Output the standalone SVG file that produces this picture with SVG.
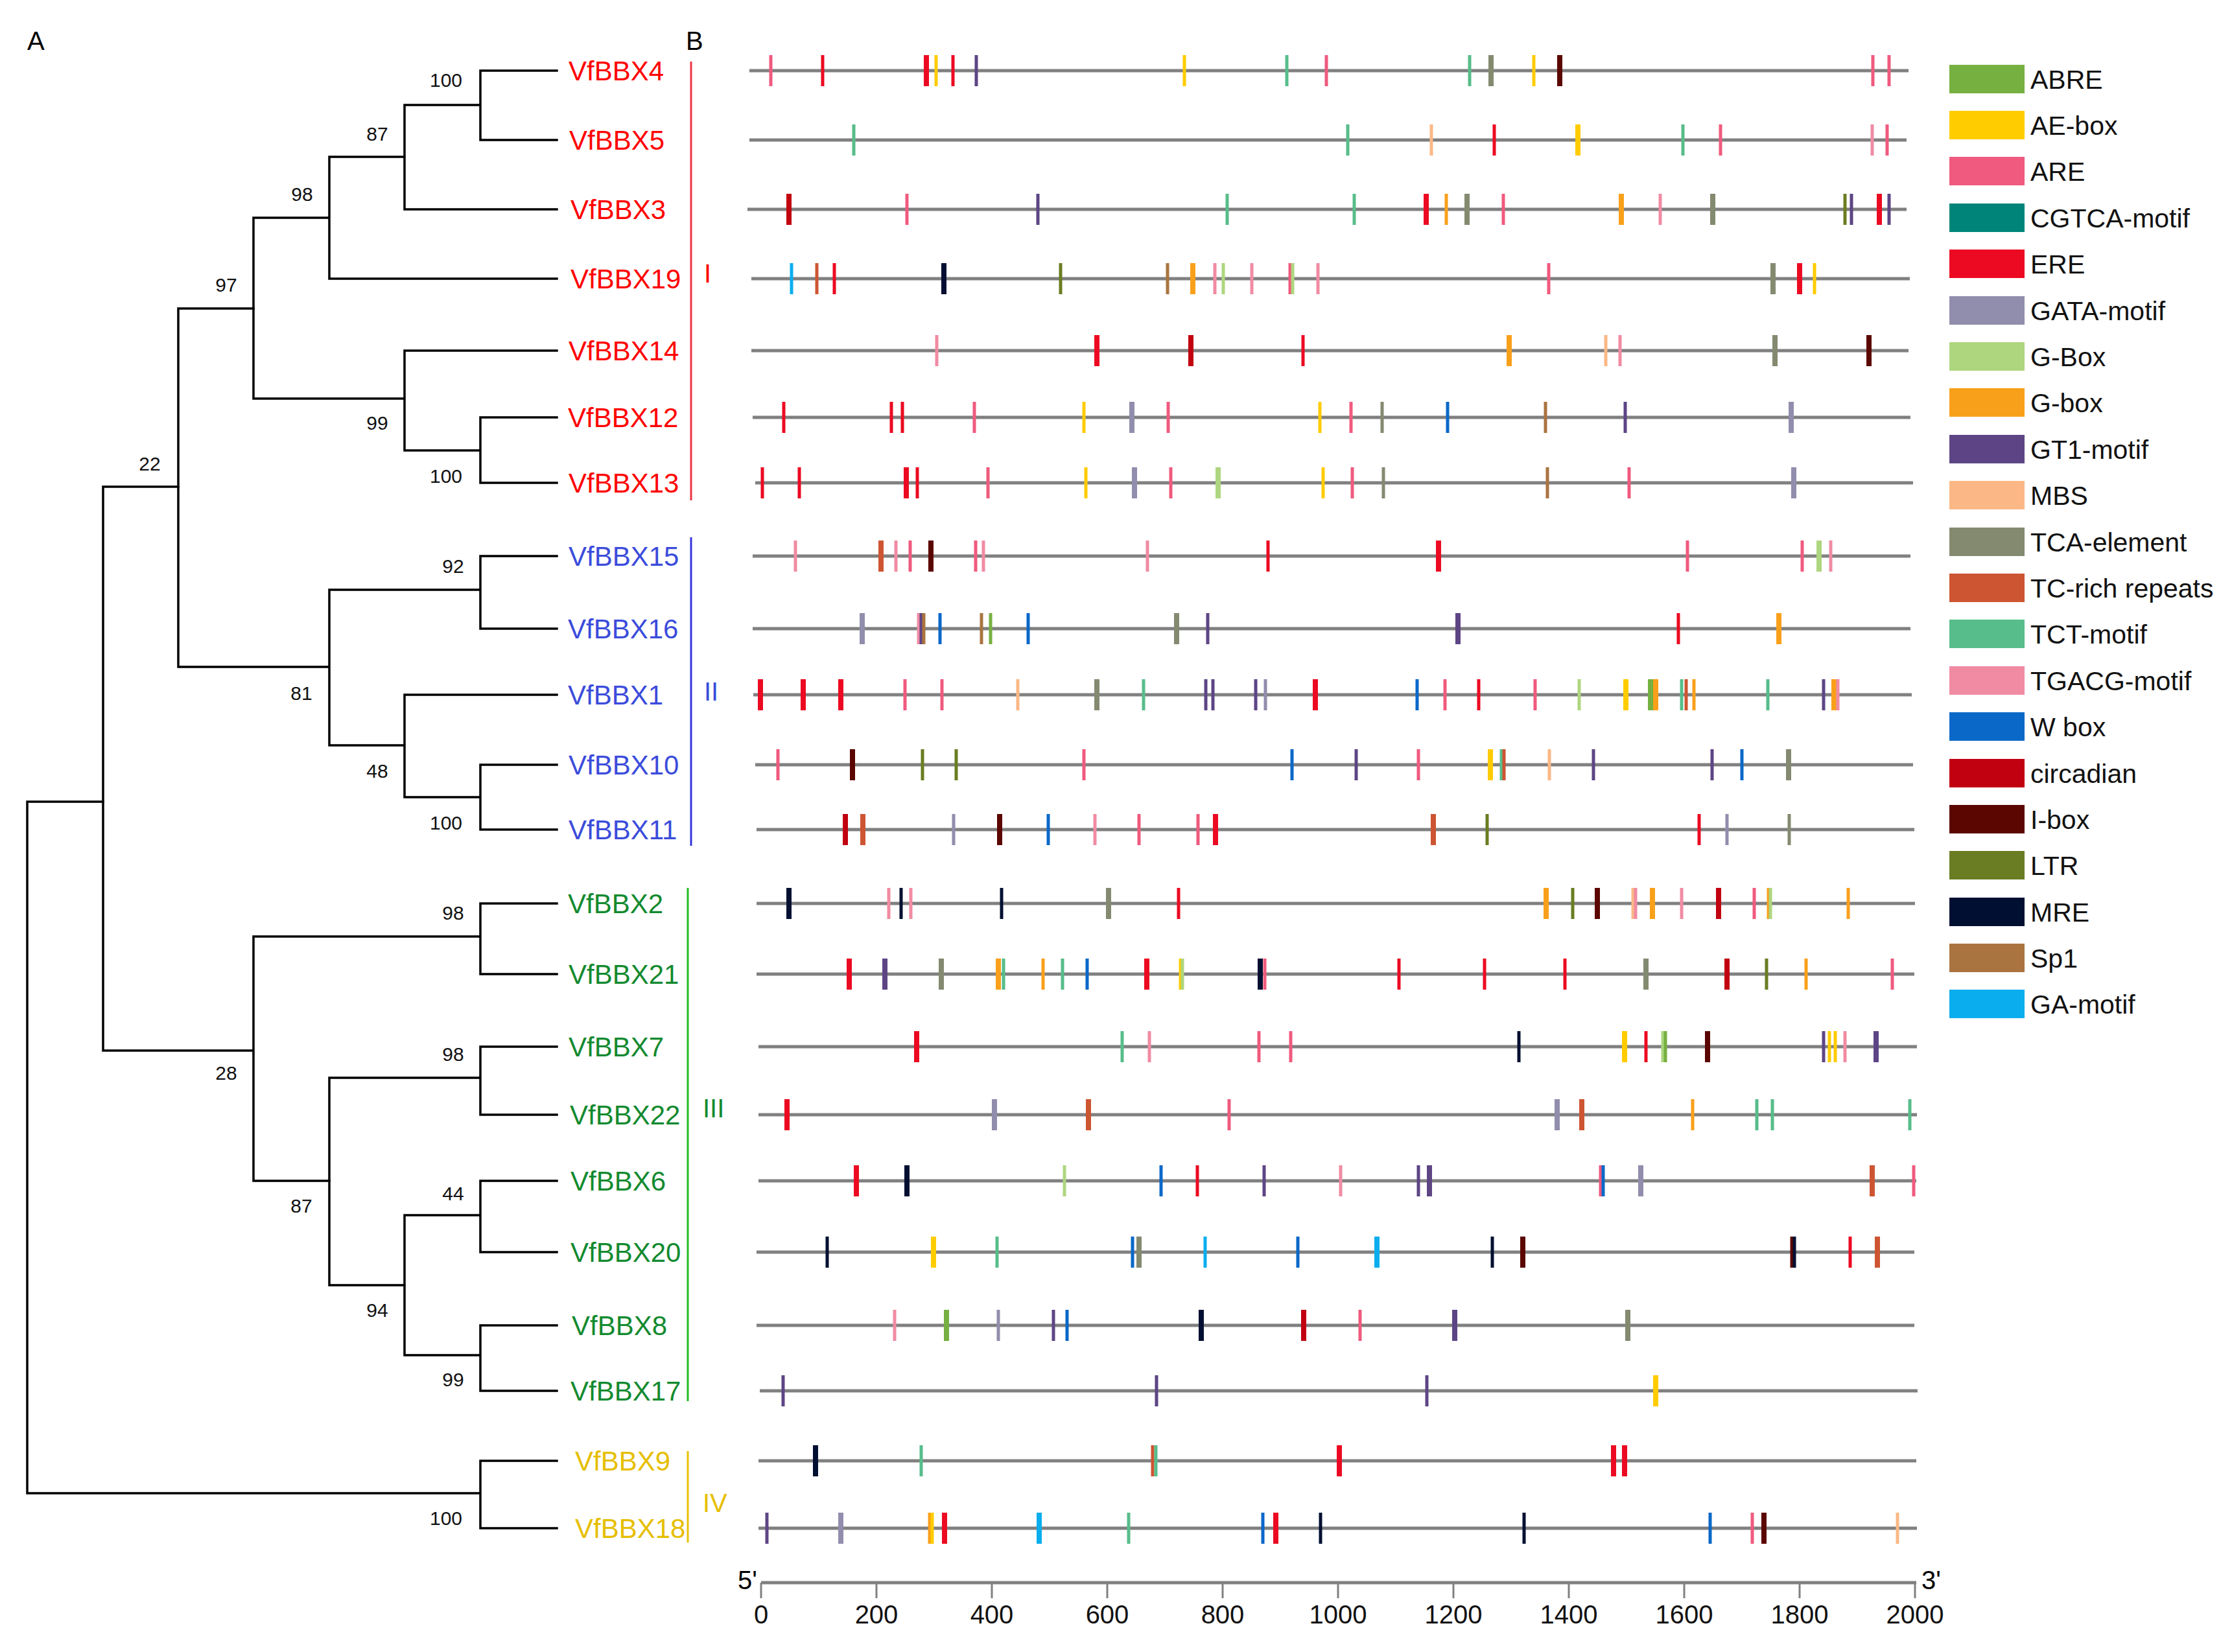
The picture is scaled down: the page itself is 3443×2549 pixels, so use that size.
<svg xmlns="http://www.w3.org/2000/svg" xmlns:xlink="http://www.w3.org/1999/xlink" width="3443" height="2549" viewBox="0 0 3443 2549">
<style>
text{font-family:"Liberation Sans",Arial,sans-serif}
.lab{font-size:42px}
.num{font-size:30px;fill:#111;text-anchor:middle}
.leg{font-size:41px;fill:#111}
.ax{font-size:40px;fill:#111;text-anchor:middle}
.br{fill:none;stroke:#000;stroke-width:3.5;stroke-linecap:square}
.row{stroke:#808080;stroke-width:5}
.c1{fill:#FF0000}.c2{fill:#3B4CDB}.c3{fill:#138A2F}.c4{fill:#E6BE00}
.abre{fill:#76B041}.ae{fill:#FFCC00}.are{fill:#F05A7E}.cgtca{fill:#00847A}.ere{fill:#EC0A22}
.gata{fill:#918DAC}.gB{fill:#AED67F}.gb{fill:#F9A01B}.gt1{fill:#5D4585}.mbs{fill:#FBB886}
.tca{fill:#838A70}.tcr{fill:#CD5532}.tct{fill:#57BD8A}.tgacg{fill:#F08BA3}.wbox{fill:#0A68C8}
.circ{fill:#C10010}.ibox{fill:#5B0600}.ltr{fill:#6A7D22}.mre{fill:#011032}.sp1{fill:#AA7440}.ga{fill:#0AAEEE}
</style>
<defs>
<rect id="t" x="-2.5" y="-24" width="5" height="48"/>
<rect id="T" x="-4" y="-24" width="8" height="48"/>
</defs>
<rect width="3443" height="2549" fill="#fff"/>
<text x="42" y="77" style="font-size:40px">A</text>
<text x="1058" y="77" style="font-size:40px">B</text>

<g id="connectors" class="br">
<path d="M859 109H741V216H859M741 162H624V323H859M624 242H508V430H859M508 336H391V615H624M624 541V695H741M741 644H859M741 644V745H859M859 541H624"/>
<path d="M391 476H275V1029H508M508 910V1150H624M624 1072V1230H741M741 1180H859M741 1180V1280H859M859 1072H624M508 910H741M741 858H859M741 858V970H859"/>
<path d="M275 751H159V1621H391M391 1445V1822H508M741 1394H859M741 1394V1503H859M391 1445H741"/>
<path d="M508 1663V1983H624M508 1663H741M741 1615H859M741 1615V1720H859M624 1875V2091H741M624 1875H741M741 1822H859M741 1822V1932H859M741 2045H859M741 2045V2146H859"/>
<path d="M159 1237H42V2304H741M741 2254H859M741 2254V2358H859"/>
</g>

<g id="bootstrap">
<text class="num" x="688" y="134">100</text>
<text class="num" x="582" y="217">87</text>
<text class="num" x="466" y="310">98</text>
<text class="num" x="349" y="450">97</text>
<text class="num" x="231" y="726">22</text>
<text class="num" x="582" y="663">99</text>
<text class="num" x="688" y="745">100</text>
<text class="num" x="699" y="884">92</text>
<text class="num" x="465" y="1080">81</text>
<text class="num" x="582" y="1200">48</text>
<text class="num" x="688" y="1280">100</text>
<text class="num" x="699" y="1419">98</text>
<text class="num" x="349" y="1666">28</text>
<text class="num" x="699" y="1637">98</text>
<text class="num" x="465" y="1871">87</text>
<text class="num" x="699" y="1852">44</text>
<text class="num" x="582" y="2032">94</text>
<text class="num" x="699" y="2139">99</text>
<text class="num" x="688" y="2353">100</text>
</g>

<g id="clades">
<line x1="1066" y1="95" x2="1066" y2="772" stroke="#EE3344" stroke-width="3"/>
<text x="1086" y="436" class="c1" style="font-size:40px">I</text>
<line x1="1066" y1="829" x2="1066" y2="1305" stroke="#3535DD" stroke-width="3"/>
<text x="1086" y="1081" class="c2" style="font-size:40px">II</text>
<line x1="1061" y1="1370" x2="1061" y2="2162" stroke="#22BB22" stroke-width="3"/>
<text x="1084" y="1724" class="c3" style="font-size:40px">III</text>
<line x1="1061" y1="2239" x2="1061" y2="2380" stroke="#E6C000" stroke-width="3"/>
<text x="1084" y="2333" class="c4" style="font-size:40px">IV</text>
</g>

<g id="VfBBX4"><text class="lab c1" x="877" y="124">VfBBX4</text>
<g transform="translate(0,109)"><line class="row" x1="1156" x2="2944" y1="0" y2="0"/>
<use href="#t" x="1189" class="are"/><use href="#t" x="1269" class="ere"/><use href="#T" x="1429" class="ere"/><use href="#t" x="1444" class="ae"/><use href="#t" x="1470" class="ere"/><use href="#t" x="1506" class="gt1"/><use href="#t" x="1827" class="ae"/><use href="#t" x="1985" class="tct"/><use href="#t" x="2046" class="are"/><use href="#t" x="2267" class="tct"/><use href="#T" x="2300" class="tca"/><use href="#t" x="2366" class="ae"/><use href="#T" x="2406" class="ibox"/><use href="#t" x="2889" class="are"/><use href="#t" x="2914" class="are"/>
</g></g>

<g id="VfBBX5"><text class="lab c1" x="878" y="231">VfBBX5</text>
<g transform="translate(0,216)"><line class="row" x1="1156" x2="2941" y1="0" y2="0"/>
<use href="#t" x="1317" class="tct"/><use href="#t" x="2079" class="tct"/><use href="#t" x="2208" class="mbs"/><use href="#t" x="2305" class="ere"/><use href="#T" x="2434" class="ae"/><use href="#t" x="2596" class="tct"/><use href="#t" x="2654" class="are"/><use href="#t" x="2888" class="tgacg"/><use href="#t" x="2911" class="are"/>
</g></g>

<g id="VfBBX3"><text class="lab c1" x="880" y="338">VfBBX3</text>
<g transform="translate(0,323)"><line class="row" x1="1153" x2="2941" y1="0" y2="0"/>
<use href="#T" x="1217" class="circ"/><use href="#t" x="1399" class="are"/><use href="#t" x="1601" class="gt1"/><use href="#t" x="1893" class="tct"/><use href="#t" x="2089" class="tct"/><use href="#T" x="2200" class="ere"/><use href="#t" x="2231" class="gb"/><use href="#T" x="2263" class="tca"/><use href="#t" x="2319" class="are"/><use href="#T" x="2501" class="gb"/><use href="#t" x="2561" class="tgacg"/><use href="#T" x="2642" class="tca"/><use href="#t" x="2846" class="ltr"/><use href="#t" x="2856" class="gt1"/><use href="#T" x="2899" class="ere"/><use href="#t" x="2914" class="gt1"/>
</g></g>

<g id="VfBBX19"><text class="lab c1" x="880" y="445">VfBBX19</text>
<g transform="translate(0,430)"><line class="row" x1="1159" x2="2946" y1="0" y2="0"/>
<use href="#t" x="1221" class="ga"/><use href="#t" x="1260" class="tcr"/><use href="#t" x="1287" class="ere"/><use href="#T" x="1456" class="mre"/><use href="#t" x="1636" class="ltr"/><use href="#t" x="1801" class="sp1"/><use href="#T" x="1840" class="gb"/><use href="#t" x="1874" class="tgacg"/><use href="#t" x="1887" class="gB"/><use href="#t" x="1931" class="tgacg"/><use href="#t" x="1990" class="are"/><use href="#t" x="1994" class="gB"/><use href="#t" x="2033" class="tgacg"/><use href="#t" x="2389" class="are"/><use href="#T" x="2735" class="tca"/><use href="#T" x="2776" class="ere"/><use href="#t" x="2799" class="ae"/>
</g></g>

<g id="VfBBX14"><text class="lab c1" x="877" y="556">VfBBX14</text>
<g transform="translate(0,541)"><line class="row" x1="1159" x2="2944" y1="0" y2="0"/>
<use href="#t" x="1445" class="tgacg"/><use href="#T" x="1692" class="ere"/><use href="#T" x="1837" class="circ"/><use href="#t" x="2010" class="ere"/><use href="#T" x="2328" class="gb"/><use href="#t" x="2477" class="mbs"/><use href="#t" x="2499" class="tgacg"/><use href="#T" x="2738" class="tca"/><use href="#T" x="2883" class="ibox"/>
</g></g>

<g id="VfBBX12"><text class="lab c1" x="876" y="659">VfBBX12</text>
<g transform="translate(0,644)"><line class="row" x1="1161" x2="2947" y1="0" y2="0"/>
<use href="#t" x="1209" class="ere"/><use href="#t" x="1375" class="ere"/><use href="#t" x="1392" class="ere"/><use href="#t" x="1503" class="are"/><use href="#t" x="1672" class="ae"/><use href="#T" x="1746" class="gata"/><use href="#t" x="1802" class="are"/><use href="#t" x="2036" class="ae"/><use href="#t" x="2084" class="are"/><use href="#t" x="2132" class="tca"/><use href="#t" x="2233" class="wbox"/><use href="#t" x="2384" class="sp1"/><use href="#t" x="2507" class="gt1"/><use href="#T" x="2763" class="gata"/>
</g></g>

<g id="VfBBX13"><text class="lab c1" x="877" y="760">VfBBX13</text>
<g transform="translate(0,745)"><line class="row" x1="1165" x2="2951" y1="0" y2="0"/>
<use href="#t" x="1176" class="ere"/><use href="#t" x="1233" class="ere"/><use href="#T" x="1398" class="ere"/><use href="#t" x="1415" class="ere"/><use href="#t" x="1524" class="are"/><use href="#t" x="1675" class="ae"/><use href="#T" x="1750" class="gata"/><use href="#t" x="1806" class="are"/><use href="#T" x="1879" class="gB"/><use href="#t" x="2041" class="ae"/><use href="#t" x="2086" class="are"/><use href="#t" x="2134" class="tca"/><use href="#t" x="2387" class="sp1"/><use href="#t" x="2513" class="are"/><use href="#T" x="2767" class="gata"/>
</g></g>

<g id="VfBBX15"><text class="lab c2" x="877" y="873">VfBBX15</text>
<g transform="translate(0,858)"><line class="row" x1="1161" x2="2947" y1="0" y2="0"/>
<use href="#t" x="1227" class="tgacg"/><use href="#T" x="1359" class="tcr"/><use href="#t" x="1382" class="tgacg"/><use href="#t" x="1404" class="are"/><use href="#T" x="1436" class="ibox"/><use href="#t" x="1505" class="are"/><use href="#t" x="1517" class="tgacg"/><use href="#t" x="1770" class="tgacg"/><use href="#t" x="1956" class="ere"/><use href="#T" x="2219" class="ere"/><use href="#t" x="2603" class="are"/><use href="#t" x="2780" class="are"/><use href="#T" x="2806" class="gB"/><use href="#t" x="2824" class="tgacg"/>
</g></g>

<g id="VfBBX16"><text class="lab c2" x="876" y="985">VfBBX16</text>
<g transform="translate(0,970)"><line class="row" x1="1161" x2="2947" y1="0" y2="0"/>
<use href="#T" x="1330" class="gata"/><use href="#t" x="1417" class="tgacg"/><use href="#t" x="1421" class="gt1"/><use href="#t" x="1425" class="sp1"/><use href="#t" x="1450" class="wbox"/><use href="#t" x="1514" class="sp1"/><use href="#t" x="1528" class="abre"/><use href="#t" x="1586" class="wbox"/><use href="#T" x="1815" class="tca"/><use href="#t" x="1863" class="gt1"/><use href="#T" x="2249" class="gt1"/><use href="#t" x="2589" class="ere"/><use href="#T" x="2744" class="gb"/>
</g></g>

<g id="VfBBX1"><text class="lab c2" x="876" y="1087">VfBBX1</text>
<g transform="translate(0,1072)"><line class="row" x1="1162" x2="2949" y1="0" y2="0"/>
<use href="#T" x="1173" class="ere"/><use href="#T" x="1239" class="ere"/><use href="#T" x="1297" class="ere"/><use href="#t" x="1396" class="are"/><use href="#t" x="1453" class="are"/><use href="#t" x="1570" class="mbs"/><use href="#T" x="1692" class="tca"/><use href="#t" x="1764" class="tct"/><use href="#t" x="1860" class="gt1"/><use href="#t" x="1871" class="gt1"/><use href="#t" x="1937" class="gt1"/><use href="#t" x="1952" class="gata"/><use href="#T" x="2029" class="ere"/><use href="#t" x="2186" class="wbox"/><use href="#t" x="2229" class="are"/><use href="#t" x="2281" class="ere"/><use href="#t" x="2368" class="are"/><use href="#t" x="2436" class="gB"/><use href="#T" x="2508" class="ae"/><use href="#T" x="2546" class="abre"/><use href="#T" x="2554" class="gb"/><use href="#t" x="2594" class="tct"/><use href="#t" x="2601" class="tcr"/><use href="#t" x="2613" class="gb"/><use href="#t" x="2727" class="tct"/><use href="#t" x="2813" class="gt1"/><use href="#T" x="2829" class="gb"/><use href="#t" x="2835" class="tgacg"/>
</g></g>

<g id="VfBBX10"><text class="lab c2" x="877" y="1195">VfBBX10</text>
<g transform="translate(0,1180)"><line class="row" x1="1165" x2="2951" y1="0" y2="0"/>
<use href="#t" x="1200" class="are"/><use href="#T" x="1315" class="ibox"/><use href="#t" x="1423" class="ltr"/><use href="#t" x="1475" class="ltr"/><use href="#t" x="1672" class="are"/><use href="#t" x="1993" class="wbox"/><use href="#t" x="2092" class="gt1"/><use href="#t" x="2188" class="are"/><use href="#T" x="2299" class="ae"/><use href="#t" x="2316" class="tct"/><use href="#t" x="2320" class="tcr"/><use href="#t" x="2390" class="mbs"/><use href="#t" x="2458" class="gt1"/><use href="#t" x="2641" class="gt1"/><use href="#t" x="2687" class="wbox"/><use href="#T" x="2759" class="tca"/>
</g></g>

<g id="VfBBX11"><text class="lab c2" x="877" y="1295">VfBBX11</text>
<g transform="translate(0,1280)"><line class="row" x1="1167" x2="2953" y1="0" y2="0"/>
<use href="#T" x="1304" class="circ"/><use href="#T" x="1331" class="tcr"/><use href="#t" x="1471" class="gata"/><use href="#T" x="1542" class="ibox"/><use href="#t" x="1617" class="wbox"/><use href="#t" x="1689" class="tgacg"/><use href="#t" x="1757" class="are"/><use href="#t" x="1848" class="are"/><use href="#T" x="1875" class="ere"/><use href="#T" x="2211" class="tcr"/><use href="#t" x="2294" class="ltr"/><use href="#t" x="2621" class="ere"/><use href="#t" x="2664" class="gata"/><use href="#t" x="2760" class="tca"/>
</g></g>

<g id="VfBBX2"><text class="lab c3" x="876" y="1409">VfBBX2</text>
<g transform="translate(0,1394)"><line class="row" x1="1167" x2="2954" y1="0" y2="0"/>
<use href="#T" x="1217" class="mre"/><use href="#t" x="1371" class="tgacg"/><use href="#t" x="1390" class="mre"/><use href="#t" x="1405" class="tgacg"/><use href="#t" x="1545" class="mre"/><use href="#T" x="1710" class="tca"/><use href="#t" x="1818" class="ere"/><use href="#T" x="2385" class="gb"/><use href="#t" x="2426" class="ltr"/><use href="#T" x="2464" class="ibox"/><use href="#t" x="2519" class="mbs"/><use href="#t" x="2523" class="tgacg"/><use href="#T" x="2549" class="gb"/><use href="#t" x="2594" class="tgacg"/><use href="#T" x="2651" class="circ"/><use href="#t" x="2706" class="are"/><use href="#t" x="2728" class="gb"/><use href="#t" x="2731" class="gB"/><use href="#t" x="2851" class="gb"/>
</g></g>

<g id="VfBBX21"><text class="lab c3" x="877" y="1518">VfBBX21</text>
<g transform="translate(0,1503)"><line class="row" x1="1167" x2="2953" y1="0" y2="0"/>
<use href="#T" x="1310" class="ere"/><use href="#T" x="1365" class="gt1"/><use href="#T" x="1452" class="tca"/><use href="#T" x="1540" class="gb"/><use href="#t" x="1548" class="tct"/><use href="#t" x="1609" class="gb"/><use href="#t" x="1639" class="tct"/><use href="#t" x="1677" class="wbox"/><use href="#T" x="1769" class="ere"/><use href="#t" x="1821" class="ae"/><use href="#t" x="1824" class="gB"/><use href="#T" x="1944" class="mre"/><use href="#t" x="1951" class="are"/><use href="#t" x="2158" class="ere"/><use href="#t" x="2290" class="ere"/><use href="#t" x="2414" class="ere"/><use href="#T" x="2539" class="tca"/><use href="#T" x="2664" class="circ"/><use href="#t" x="2725" class="ltr"/><use href="#t" x="2786" class="gb"/><use href="#t" x="2919" class="are"/>
</g></g>

<g id="VfBBX7"><text class="lab c3" x="877" y="1630">VfBBX7</text>
<g transform="translate(0,1615)"><line class="row" x1="1170" x2="2957" y1="0" y2="0"/>
<use href="#T" x="1414" class="ere"/><use href="#t" x="1731" class="tct"/><use href="#t" x="1773" class="tgacg"/><use href="#t" x="1942" class="are"/><use href="#t" x="1991" class="are"/><use href="#t" x="2343" class="mre"/><use href="#T" x="2506" class="ae"/><use href="#t" x="2539" class="ere"/><use href="#t" x="2565" class="gB"/><use href="#t" x="2569" class="abre"/><use href="#T" x="2634" class="ibox"/><use href="#t" x="2813" class="gt1"/><use href="#t" x="2822" class="ae"/><use href="#t" x="2831" class="ae"/><use href="#t" x="2846" class="tgacg"/><use href="#T" x="2894" class="gt1"/>
</g></g>

<g id="VfBBX22"><text class="lab c3" x="879" y="1735">VfBBX22</text>
<g transform="translate(0,1720)"><line class="row" x1="1170" x2="2957" y1="0" y2="0"/>
<use href="#T" x="1214" class="ere"/><use href="#T" x="1534" class="gata"/><use href="#T" x="1679" class="tcr"/><use href="#t" x="1896" class="are"/><use href="#T" x="2402" class="gata"/><use href="#T" x="2440" class="tcr"/><use href="#t" x="2611" class="gb"/><use href="#t" x="2710" class="tct"/><use href="#t" x="2734" class="tct"/><use href="#t" x="2946" class="tct"/>
</g></g>

<g id="VfBBX6"><text class="lab c3" x="880" y="1837">VfBBX6</text>
<g transform="translate(0,1822)"><line class="row" x1="1170" x2="2956" y1="0" y2="0"/>
<use href="#T" x="1321" class="ere"/><use href="#T" x="1399" class="mre"/><use href="#t" x="1642" class="gB"/><use href="#t" x="1791" class="wbox"/><use href="#t" x="1847" class="ere"/><use href="#t" x="1950" class="gt1"/><use href="#t" x="2068" class="tgacg"/><use href="#t" x="2188" class="gt1"/><use href="#T" x="2205" class="gt1"/><use href="#t" x="2469" class="are"/><use href="#t" x="2473" class="wbox"/><use href="#T" x="2531" class="gata"/><use href="#T" x="2888" class="tcr"/><use href="#t" x="2952" class="are"/>
</g></g>

<g id="VfBBX20"><text class="lab c3" x="880" y="1947">VfBBX20</text>
<g transform="translate(0,1932)"><line class="row" x1="1167" x2="2953" y1="0" y2="0"/>
<use href="#t" x="1276" class="mre"/><use href="#T" x="1440" class="ae"/><use href="#t" x="1538" class="tct"/><use href="#t" x="1747" class="wbox"/><use href="#T" x="1757" class="tca"/><use href="#t" x="1859" class="ga"/><use href="#t" x="2002" class="wbox"/><use href="#T" x="2124" class="ga"/><use href="#t" x="2302" class="mre"/><use href="#T" x="2349" class="ibox"/><use href="#t" x="2764" class="ibox"/><use href="#t" x="2768" class="mre"/><use href="#t" x="2854" class="ere"/><use href="#T" x="2896" class="tcr"/>
</g></g>

<g id="VfBBX8"><text class="lab c3" x="882" y="2060">VfBBX8</text>
<g transform="translate(0,2045)"><line class="row" x1="1167" x2="2953" y1="0" y2="0"/>
<use href="#t" x="1380" class="tgacg"/><use href="#T" x="1460" class="abre"/><use href="#t" x="1540" class="gata"/><use href="#t" x="1625" class="gt1"/><use href="#t" x="1646" class="wbox"/><use href="#T" x="1853" class="mre"/><use href="#T" x="2011" class="circ"/><use href="#t" x="2098" class="are"/><use href="#T" x="2244" class="gt1"/><use href="#T" x="2511" class="tca"/>
</g></g>

<g id="VfBBX17"><text class="lab c3" x="880" y="2161">VfBBX17</text>
<g transform="translate(0,2146)"><line class="row" x1="1172" x2="2958" y1="0" y2="0"/>
<use href="#t" x="1208" class="gt1"/><use href="#t" x="1784" class="gt1"/><use href="#t" x="2201" class="gt1"/><use href="#T" x="2554" class="ae"/>
</g></g>

<g id="VfBBX9"><text class="lab c4" x="887" y="2269">VfBBX9</text>
<g transform="translate(0,2254)"><line class="row" x1="1170" x2="2956" y1="0" y2="0"/>
<use href="#T" x="1258" class="mre"/><use href="#t" x="1421" class="tct"/><use href="#t" x="1778" class="tcr"/><use href="#t" x="1783" class="tct"/><use href="#T" x="2066" class="ere"/><use href="#T" x="2489" class="ere"/><use href="#T" x="2506" class="ere"/>
</g></g>

<g id="VfBBX18"><text class="lab c4" x="887" y="2373">VfBBX18</text>
<g transform="translate(0,2358)"><line class="row" x1="1170" x2="2957" y1="0" y2="0"/>
<use href="#t" x="1183" class="gt1"/><use href="#T" x="1297" class="gata"/><use href="#t" x="1434" class="gb"/><use href="#t" x="1438" class="ae"/><use href="#T" x="1457" class="ere"/><use href="#T" x="1603" class="ga"/><use href="#t" x="1741" class="tct"/><use href="#t" x="1948" class="wbox"/><use href="#T" x="1968" class="ere"/><use href="#t" x="2037" class="mre"/><use href="#t" x="2351" class="mre"/><use href="#t" x="2638" class="wbox"/><use href="#t" x="2703" class="are"/><use href="#T" x="2721" class="ibox"/><use href="#t" x="2927" class="mbs"/>
</g></g>

<g id="axis">
<line x1="1174" y1="2442" x2="2956" y2="2442" stroke="#808080" stroke-width="5"/>
<g stroke="#808080" stroke-width="3">
<line x1="1174" y1="2442" x2="1174" y2="2466"/><line x1="1352" y1="2442" x2="1352" y2="2466"/><line x1="1530" y1="2442" x2="1530" y2="2466"/><line x1="1708" y1="2442" x2="1708" y2="2466"/><line x1="1886" y1="2442" x2="1886" y2="2466"/><line x1="2064" y1="2442" x2="2064" y2="2466"/><line x1="2242" y1="2442" x2="2242" y2="2466"/><line x1="2420" y1="2442" x2="2420" y2="2466"/><line x1="2598" y1="2442" x2="2598" y2="2466"/><line x1="2776" y1="2442" x2="2776" y2="2466"/><line x1="2954" y1="2442" x2="2954" y2="2466"/>
</g>
<text class="ax" x="1174" y="2505">0</text><text class="ax" x="1352" y="2505">200</text><text class="ax" x="1530" y="2505">400</text><text class="ax" x="1708" y="2505">600</text><text class="ax" x="1886" y="2505">800</text><text class="ax" x="2064" y="2505">1000</text><text class="ax" x="2242" y="2505">1200</text><text class="ax" x="2420" y="2505">1400</text><text class="ax" x="2598" y="2505">1600</text><text class="ax" x="2776" y="2505">1800</text><text class="ax" x="2954" y="2505">2000</text>
<text x="1168" y="2452" style="font-size:40px;text-anchor:end">5'</text>
<text x="2964" y="2452" style="font-size:40px">3'</text>
</g>

<g id="legend">
<rect x="3007" y="100" width="116" height="44" class="abre"/><text class="leg" x="3132" y="137">ABRE</text>
<rect x="3007" y="171" width="116" height="44" class="ae"/><text class="leg" x="3132" y="208">AE-box</text>
<rect x="3007" y="242" width="116" height="44" class="are"/><text class="leg" x="3132" y="279">ARE</text>
<rect x="3007" y="314" width="116" height="44" class="cgtca"/><text class="leg" x="3132" y="351">CGTCA-motif</text>
<rect x="3007" y="385" width="116" height="44" class="ere"/><text class="leg" x="3132" y="422">ERE</text>
<rect x="3007" y="457" width="116" height="44" class="gata"/><text class="leg" x="3132" y="494">GATA-motif</text>
<rect x="3007" y="528" width="116" height="44" class="gB"/><text class="leg" x="3132" y="565">G-Box</text>
<rect x="3007" y="599" width="116" height="44" class="gb"/><text class="leg" x="3132" y="636">G-box</text>
<rect x="3007" y="671" width="116" height="44" class="gt1"/><text class="leg" x="3132" y="708">GT1-motif</text>
<rect x="3007" y="742" width="116" height="44" class="mbs"/><text class="leg" x="3132" y="779">MBS</text>
<rect x="3007" y="814" width="116" height="44" class="tca"/><text class="leg" x="3132" y="851">TCA-element</text>
<rect x="3007" y="885" width="116" height="44" class="tcr"/><text class="leg" x="3132" y="922">TC-rich repeats</text>
<rect x="3007" y="956" width="116" height="44" class="tct"/><text class="leg" x="3132" y="993">TCT-motif</text>
<rect x="3007" y="1028" width="116" height="44" class="tgacg"/><text class="leg" x="3132" y="1065">TGACG-motif</text>
<rect x="3007" y="1099" width="116" height="44" class="wbox"/><text class="leg" x="3132" y="1136">W box</text>
<rect x="3007" y="1171" width="116" height="44" class="circ"/><text class="leg" x="3132" y="1208">circadian</text>
<rect x="3007" y="1242" width="116" height="44" class="ibox"/><text class="leg" x="3132" y="1279">I-box</text>
<rect x="3007" y="1313" width="116" height="44" class="ltr"/><text class="leg" x="3132" y="1350">LTR</text>
<rect x="3007" y="1385" width="116" height="44" class="mre"/><text class="leg" x="3132" y="1422">MRE</text>
<rect x="3007" y="1456" width="116" height="44" class="sp1"/><text class="leg" x="3132" y="1493">Sp1</text>
<rect x="3007" y="1527" width="116" height="44" class="ga"/><text class="leg" x="3132" y="1564">GA-motif</text>
</g>
</svg>
